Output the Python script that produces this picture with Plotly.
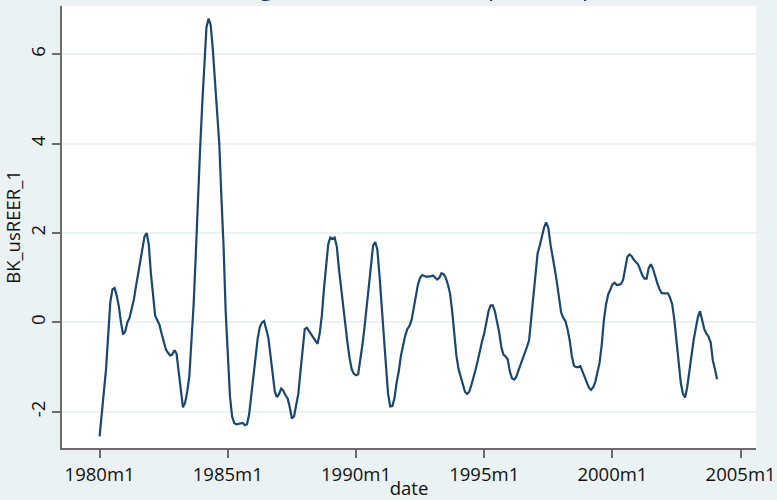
import plotly.graph_objects as go

# Monthly series BK_usREER_1, 1980m1 .. 2004m2 (Stata %tm: 1980m1 = 240)
start_month = 240
bk_values = [
    -2.55, -2.05, -1.55, -1.05, -0.30, 0.45, 0.74, 0.77, 0.60, 0.36,
    0.00, -0.27, -0.20, 0.00, 0.10, 0.30, 0.50, 0.80, 1.10, 1.40,
    1.70, 1.92, 2.00, 1.75, 1.10, 0.55, 0.15, 0.05, -0.05, -0.25,
    -0.45, -0.60, -0.68, -0.74, -0.72, -0.62, -0.70, -1.10, -1.57, -1.90,
    -1.80, -1.55, -1.20, -0.50, 0.40, 1.50, 2.90, 3.85, 4.85, 5.90,
    6.60, 6.80, 6.65, 6.10, 5.40, 4.75, 4.00, 2.80, 1.73, 0.25,
    -0.60, -1.65, -2.10, -2.25, -2.28, -2.27, -2.26, -2.25, -2.30, -2.28,
    -2.05, -1.65, -1.25, -0.75, -0.35, -0.10, 0.00, 0.03, -0.15, -0.35,
    -0.75, -1.15, -1.55, -1.67, -1.60, -1.48, -1.53, -1.63, -1.70, -1.90,
    -2.15, -2.10, -1.85, -1.60, -1.10, -0.65, -0.15, -0.12, -0.19, -0.25,
    -0.35, -0.42, -0.48, -0.25, 0.15, 0.75, 1.30, 1.75, 1.90, 1.87,
    1.90, 1.70, 1.20, 0.75, 0.30, 0.00, -0.45, -0.80, -1.05, -1.15,
    -1.18, -1.16, -0.85, -0.50, -0.10, 0.35, 0.85, 1.35, 1.72, 1.80,
    1.62, 1.05, 0.45, -0.25, -0.95, -1.60, -1.88, -1.87, -1.70, -1.35,
    -1.10, -0.75, -0.50, -0.30, -0.15, -0.08, 0.05, 0.30, 0.60, 0.85,
    1.00, 1.06, 1.04, 1.02, 1.03, 1.03, 1.05, 1.00, 0.96, 1.00,
    1.10, 1.08, 1.00, 0.85, 0.65, 0.25, -0.30, -0.75, -1.05, -1.22,
    -1.42, -1.55, -1.60, -1.55, -1.40, -1.25, -1.05, -0.85, -0.62, -0.42,
    -0.25, -0.02, 0.25, 0.38, 0.38, 0.25, 0.05, -0.22, -0.55, -0.72,
    -0.76, -0.83, -1.10, -1.25, -1.28, -1.22, -1.08, -0.95, -0.85, -0.68,
    -0.55, -0.40, 0.10, 0.70, 1.20, 1.55, 1.72, 1.95, 2.12, 2.24,
    2.12, 1.75, 1.50, 1.20, 0.90, 0.55, 0.22, 0.10, 0.03, -0.15,
    -0.40, -0.75, -0.97, -1.00, -1.00, -0.98, -1.10, -1.25, -1.38, -1.46,
    -1.51, -1.45, -1.33, -1.10, -0.90, -0.50, 0.05, 0.40, 0.62, 0.73,
    0.85, 0.89, 0.84, 0.84, 0.86, 0.95, 1.25, 1.47, 1.52, 1.48,
    1.40, 1.35, 1.30, 1.18, 1.05, 0.98, 0.98, 1.22, 1.30, 1.20,
    1.02, 0.88, 0.75, 0.66, 0.65, 0.65, 0.65, 0.55, 0.40, 0.05,
    -0.40, -0.85, -1.35, -1.60, -1.68, -1.45, -1.05, -0.75, -0.40, -0.15,
    0.12, 0.25, 0.05, -0.15, -0.25, -0.32, -0.45, -0.85, -1.05, -1.27,
]
months = [start_month + i for i in range(len(bk_values))]

x_tick_vals = [240, 300, 360, 420, 480, 540]
x_tick_labels = ["1980m1", "1985m1", "1990m1", "1995m1", "2000m1", "2005m1"]
y_tick_vals = [-2, 0, 2, 4, 6]
y_tick_labels = ["-2", "0", "2", "4", "6"]

title_text = "Baxter-King filter for usREER, pl = 18, pu = 96"

BG = "#EAF2F3"
LINE = "#1A476F"
AXIS = "#6b6b6b"
FONT = "Open Sans"

fig = go.Figure()
fig.add_trace(go.Scatter(
    x=months, y=bk_values, mode="lines",
    line=dict(color=LINE, width=2.2),
    showlegend=False, hoverinfo="skip",
))

fig.update_layout(
    width=777, height=500,
    margin=dict(l=62, r=21, t=6, b=52, pad=0),
    paper_bgcolor=BG, plot_bgcolor="white",
    font=dict(family=FONT, size=18, color="#111111"),
    showlegend=False,
)
fig.update_xaxes(
    range=[222.4, 547.2], tickmode="array", automargin=False,
    tickvals=x_tick_vals, ticktext=x_tick_labels,
    ticks="outside", ticklen=8, tickwidth=1.5, tickcolor=AXIS,
    ticklabelstandoff=1,
    showline=True, linecolor=AXIS, linewidth=1.5,
    showgrid=False, zeroline=False,
    tickfont=dict(family=FONT, size=18.5, color="#111111"),
    title=dict(text="date", font=dict(family=FONT, size=18.5, color="#111111"), standoff=3),
)
fig.update_yaxes(
    range=[-2.81, 7.08], tickmode="array", automargin=False,
    tickvals=y_tick_vals, ticktext=y_tick_labels, tickangle=-90,
    ticks="outside", ticklen=8, tickwidth=1.5, tickcolor=AXIS,
    showline=True, linecolor=AXIS, linewidth=1.5,
    showgrid=True, gridcolor=BG, gridwidth=2, zeroline=False,
    tickfont=dict(family=FONT, size=18.5, color="#111111"),
    title=dict(text="BK_usREER_1", font=dict(family=FONT, size=18.5, color="#111111"), standoff=3),
)
fig.add_annotation(
    text=title_text, xref="paper", yref="paper", x=0.491, y=1,
    xanchor="center", yanchor="bottom", yshift=1, showarrow=False,
    font=dict(family=FONT, size=26, color="#1e2f5e"),
)

fig.write_html("out.html")
